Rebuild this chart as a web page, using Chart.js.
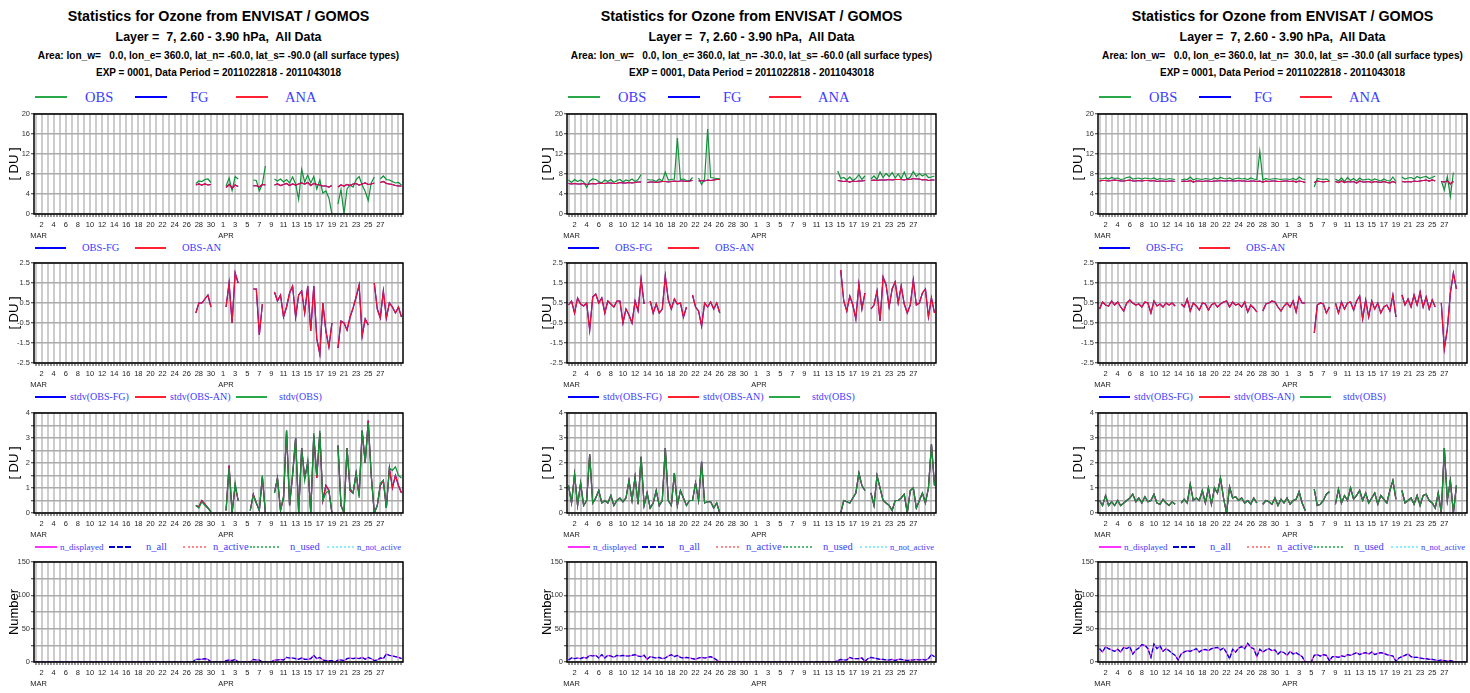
<!DOCTYPE html>
<html>
<head>
<meta charset="utf-8">
<script src="https://cdn.jsdelivr.net/npm/chart.js@4"></script>
<style>
  body { margin: 0; background: #fff; width: 1470px; height: 693px; position: relative; overflow: hidden; }
  canvas { position: absolute; }
  .ttl { position: absolute; white-space: pre; line-height: 1; font-family: "Liberation Sans", Arial, sans-serif; font-weight: bold; color: #000; transform: translate(-50%, -50%); }
  .lgt { position: absolute; white-space: pre; line-height: 1; font-family: "Liberation Serif", "Times New Roman", serif; color: #3c3cff; transform: translateY(-50%); }
  .lgl { position: absolute; height: 0; }
</style>
</head>
<body>
<script>
const _ = null;

// x axis: days since 1 Mar 2011 00Z, one value every 12 h (122 per series)
const marDays = [2, 4, 6, 8, 10, 12, 14, 16, 18, 20, 22, 24, 26, 28, 30];
const aprDays = [1, 3, 5, 7, 9, 11, 13, 15, 17, 19, 21, 23, 25, 27];
const monthNames = ['MAR', 'APR'];

const titleMain = 'Statistics for Ozone from ENVISAT / GOMOS';
const titleLayer = 'Layer =  7, 2.60 - 3.90 hPa,  All Data';
const titleExp = 'EXP = 0001, Data Period = 2011022818 - 2011043018';
const areaText = [
  'Area: lon_w=   0.0, lon_e= 360.0, lat_n= -60.0, lat_s= -90.0 (all surface types)',
  'Area: lon_w=   0.0, lon_e= 360.0, lat_n= -30.0, lat_s= -60.0 (all surface types)',
  'Area: lon_w=   0.0, lon_e= 360.0, lat_n=  30.0, lat_s= -30.0 (all surface types)'
];

// ---------- column 1 : 60S - 90S ----------
const c1Obs = [
  _,_, _,_, _,_, _,_, _,_, _,_, _,_, _,_, _,_, _,_,
  _,_, _,_, _,_, _,_, _,_, _,_, _,_, _,_, _,_, _,_,
  _,_, _,_, _,_, _,_, _,_, _,_, _,6.1, 6.6,6.5, 6.9,7.0, 6.3,_,
  _,_, _,5.6, 7.2,4.7, 7.5,7.0, _,_, _,_, 6.8,6.7, 4.6,6.0, 9.6,_, _,7.0,
  6.6,7.0, 6.4,6.9, 6.2,7.4, 6.0,2.9, 8.9,6.4, 7.8,6.2, 7.5,5.0, 6.8,4.2, 4.6,3.2, 0.0,_,
  2.0,4.9, 0.0,5.0, 5.8,5.4, 6.9,7.5, 5.8,4.5, 2.7,6.2, 7.4,_, 7.0,7.6, 6.9,6.8, 6.5,6.2,
  6.3,5.8
];
const c1Ana = [
  _,_, _,_, _,_, _,_, _,_, _,_, _,_, _,_, _,_, _,_,
  _,_, _,_, _,_, _,_, _,_, _,_, _,_, _,_, _,_, _,_,
  _,_, _,_, _,_, _,_, _,_, _,_, _,5.8, 6.0,5.8, 6.0,5.8, 5.9,_,
  _,_, _,5.3, 5.9,5.2, 5.8,5.5, _,_, _,_, 5.6,5.7, 5.4,5.9, 5.8,_, _,5.8,
  6.0,5.7, 5.9,6.1, 5.7,6.0, 5.8,6.0, 6.2,6.0, 6.3,5.7, 6.1,5.9, 5.8,5.6, 5.6,5.4, 5.7,_,
  5.4,5.8, 5.6,5.9, 5.7,6.0, 6.1,5.8, 6.0,6.2, 5.9,6.0, 6.2,_, 6.3,6.5, 6.1,6.0, 5.9,5.7,
  5.6,5.6
];
const c1Fg = c1Ana;   // FG curve lies under ANA
const c1ObsFg = [
  _,_, _,_, _,_, _,_, _,_, _,_, _,_, _,_, _,_, _,_,
  _,_, _,_, _,_, _,_, _,_, _,_, _,_, _,_, _,_, _,_,
  _,_, _,_, _,_, _,_, _,_, _,_, _,0.0, 0.5,0.5, 0.7,0.9, 0.3,_,
  _,_, _,0.3, 1.5,-0.5, 2.0,1.5, _,_, _,_, 1.2,1.2, -1.1,0.45, _,_, _,1.05,
  0.6,0.9, -0.2,0.3, 1.0,1.35, -0.2,0.9, 1.1,0.0, 1.35,-0.9, 1.35,-1.3, -2.05,0.5, -0.9,-1.7, -0.5,_,
  -1.75,-0.4, -0.5,-0.85, -0.2,0.25, 0.8,1.4, -1.15,-0.3, -0.6,_, 1.5,0.2, -0.25,1.1, -0.25,0.5, 0.3,0.0,
  0.3,-0.2
];
const c1ObsAn = c1ObsFg;
const c1SdObs = [
  _,_, _,_, _,_, _,_, _,_, _,_, _,_, _,_, _,_, _,_,
  _,_, _,_, _,_, _,_, _,_, _,_, _,_, _,_, _,_, _,_,
  _,_, _,_, _,_, _,_, _,_, _,_, _,0.3, 0.2,0.45, 0.3,0.2, 0.05,_,
  _,_, _,0.1, 1.8,0.0, 1.2,0.5, _,_, _,0.1, 0.7,0.4, 0.1,1.5, 0.0,_, _,0.8,
  1.4,0.1, 0.7,3.3, 0.3,1.6, 3.0,0.0, 2.6,1.3, 2.1,0.0, 3.2,1.5, 3.3,0.5, 0.8,0.9, 0.0,_,
  2.7,0.3, 0.0,2.6, 1.0,0.8, 1.6,0.6, 3.3,2.0, 3.6,1.5, 0.0,0.3, 1.2,1.3, 0.2,1.8, 1.7,1.85,
  1.5,1.4
];
const c1SdAn = [
  _,_, _,_, _,_, _,_, _,_, _,_, _,_, _,_, _,_, _,_,
  _,_, _,_, _,_, _,_, _,_, _,_, _,_, _,_, _,_, _,_,
  _,_, _,_, _,_, _,_, _,_, _,_, _,0.3, 0.25,0.5, 0.35,0.2, 0.05,_,
  _,_, _,0.1, 1.9,0.0, 1.1,0.5, _,_, _,0.1, 0.75,0.4, 0.1,1.45, 0.0,_, _,0.8,
  1.4,0.1, 0.6,3.3, 0.3,1.5, 3.0,0.0, 2.6,1.4, 2.0,0.0, 3.1,1.4, 3.2,0.5, 1.1,0.9, 0.0,_,
  2.7,0.3, 0.0,2.6, 0.9,0.8, 1.6,0.7, 3.3,2.0, 3.7,1.5, 0.0,0.3, 1.1,1.3, 0.2,1.8, 1.0,1.5,
  1.1,0.8
];
const c1SdFg = c1SdAn;
const c1Count = [
  0,0, 0,0, 0,0, 0,0, 0,0, 0,0, 0,0, 0,0, 0,0, 0,0,
  0,0, 0,0, 0,0, 0,0, 0,0, 0,0, 0,0, 0,0, 0,0, 0,0,
  0,0, 0,0, 0,0, 0,0, 0,0, 0,0, 0,4, 4,4, 5,4, 0,0,
  0,0, 0,2, 3,2, 4,0, 0,0, 0,0, 4,3, 3,0, 0,0, 0,3,
  3,4, 3,7, 6,6, 5,4, 6,4, 4,5, 10,5, 7,3, 2,2, 2,0,
  3,3, 2,5, 6,5, 6,5, 7,4, 7,5, 2,3, 6,5, 12,10, 9,8,
  7,5
];

// ---------- column 2 : 30S - 60S ----------
const c2Obs = [
  6.8,6.3, 6.9,6.5, 6.8,6.4, 5.3,6.6, 7.0,6.9, 6.5,6.2, 6.8,6.5, 6.9,6.3, 6.7,6.9, 6.4,6.8,
  6.6,7.0, 6.5,6.9, 7.9,_, 6.9,6.8, 6.8,6.5, 7.0,6.6, 8.4,6.8, 6.9,7.0, 15.2,6.9, 7.0,6.7,
  6.6,7.3, _,7.2, 5.9,7.0, 17.0,7.3, 7.2,7.1, 7.1,_, _,_, _,_, _,_, _,_,
  _,_, _,_, _,_, _,_, _,_, _,_, _,_, _,_, _,_, _,_,
  _,_, _,_, _,_, _,_, _,8.6, 7.1,7.3, 6.8,7.4, 6.7,7.1, 7.9,6.9, 7.6,_,
  7.0,7.6, 6.9,8.4, 7.3,8.1, 7.5,8.3, 7.2,8.0, 7.0,8.4, 6.9,7.4, 8.5,7.5, 8.1,7.6, 8.0,7.3,
  7.4,7.6
];
const c2Ana = [
  6.1,6.0, 6.1,6.0, 6.0,6.1, 5.9,6.0, 6.1,6.0, 6.2,6.1, 6.1,6.2, 6.2,6.1, 6.1,6.3, 6.2,6.2,
  6.3,6.2, 6.3,6.4, 6.4,_, 6.3,6.4, 6.4,6.3, 6.4,6.5, 6.5,6.4, 6.5,6.6, 6.5,6.6, 6.6,6.5,
  6.6,6.7, _,6.6, 6.7,6.6, 6.8,6.7, 6.8,6.9, 6.9,_, _,_, _,_, _,_, _,_,
  _,_, _,_, _,_, _,_, _,_, _,_, _,_, _,_, _,_, _,_,
  _,_, _,_, _,_, _,_, _,6.7, 6.6,6.5, 6.6,6.4, 6.6,6.5, 6.6,6.6, 6.7,_,
  6.7,6.8, 6.7,6.8, 6.8,6.8, 6.9,6.8, 6.9,6.9, 6.9,6.8, 7.0,6.9, 7.1,7.0, 7.0,6.8, 6.9,6.7,
  6.8,6.8
];
const c2Fg = c2Ana;
const c2ObsFg = [
  0.4,0.6, 0.0,0.75, 0.45,0.35, 0.5,-0.85, 0.8,0.95, 0.5,0.75, 0.0,0.6, 0.45,0.3, 0.6,0.6, -0.5,0.2,
  -0.1,-0.5, 0.6,0.1, 1.7,0.45, _,0.6, 0.0,0.45, 0.0,0.2, 1.85,0.65, 0.2,0.7, 0.45,0.5, -0.2,0.3,
  _,0.9, 0.3,0.1, -0.65,0.5, 0.3,0.55, 0.2,0.5, 0.0,_, _,_, _,_, _,_, _,_,
  _,_, _,_, _,_, _,_, _,_, _,_, _,_, _,_, _,_, _,_,
  _,_, _,_, _,_, _,_, _,_, 2.15,0.6, 0.1,0.85, 0.4,-0.3, 1.45,0.2, 1.0,_,
  0.2,0.4, 1.1,-0.4, 1.8,1.4, 0.3,1.2, 1.55,0.5, 1.35,0.45, 0.0,0.4, 1.65,0.4, 0.5,1.0, 1.2,-0.2,
  0.75,0.0
];
const c2ObsAn = c2ObsFg;
const c2SdObs = [
  1.1,0.4, 1.55,0.3, 1.2,0.3, 0.5,2.35, 0.4,0.6, 0.9,0.4, 0.5,0.4, 0.7,0.3, 0.5,0.6, 0.45,0.6,
  1.3,0.5, 1.45,0.35, 2.25,0.3, 0.8,0.2, 0.4,0.9, 0.3,0.5, 2.6,0.5, 0.3,1.6, 0.3,0.9, 0.6,0.3,
  0.5,0.5, 1.2,0.5, 2.05,0.4, 0.45,0.45, 0.2,0.4, 0.0,_, _,_, _,_, _,_, _,_,
  _,_, _,_, _,_, _,_, _,_, _,_, _,_, _,_, _,_, _,_,
  _,_, _,_, _,_, _,_, _,_, 0.0,0.5, 0.45,0.4, 0.6,0.8, 1.6,1.1, 0.9,_,
  0.8,0.3, 1.5,1.0, 0.5,0.4, 0.3,0.1, 0.5,0.5, 0.6,0.75, 0.0,0.9, 1.0,0.2, 0.5,0.8, 0.4,1.0,
  2.75,1.1
];
const c2SdAn = c2SdObs;
const c2SdFg = c2SdObs;
const c2Count = [
  3,6, 5,6, 5,7, 6,10, 9,10, 6,11, 6,10, 9,7, 10,9, 10,9,
  9,10, 11,9, 8,10, 4,8, 7,6, 7,5, 6,9, 11,8, 10,7, 6,7,
  6,5, 4,6, 7,6, 7,8, 6,3, 0,0, 0,0, 0,0, 0,0, 0,0,
  0,0, 0,0, 0,0, 0,0, 0,0, 0,0, 0,0, 0,0, 0,0, 0,0,
  0,0, 0,0, 0,0, 0,0, 0,2, 4,3, 3,7, 5,5, 5,6, 1,5,
  7,6, 5,4, 4,3, 3,4, 2,4, 4,3, 2,3, 3,4, 3,4, 3,5,
  11,8
];

// ---------- column 3 : 30N - 30S ----------
const c3Obs = [
  7.1,7.0, 7.2,7.0, 7.3,7.1, 7.2,6.9, 7.0,7.3, 7.4,7.0, 7.1,7.2, 7.0,7.2, 7.1,7.0, 7.2,6.9,
  7.1,7.0, 6.9,7.1, 7.0,6.9, _,6.8, 7.0,6.9, 7.4,6.8, 7.1,7.0, 6.9,7.1, 7.0,6.9, 7.2,7.0,
  7.3,7.1, 7.0,7.2, 6.9,7.1, 7.2,7.0, 7.1,6.9, 7.2,7.0, 6.9,12.5, 6.8,7.1, 6.9,7.0, 7.1,7.0,
  6.9,7.0, 7.0,6.9, 7.1,6.8, 7.4,7.0, 6.9,_, _,5.4, 7.1,7.0, 6.9,7.0, 6.6,_, 7.0,6.6,
  7.2,6.5, 7.3,6.7, 7.1,6.6, 7.2,6.8, 6.9,7.0, 6.7,7.0, 6.8,6.6, 7.0,6.7, 6.6,7.4, 6.5,_,
  7.4,7.0, 7.2,7.3, 7.0,7.5, 7.2,7.4, 7.5,7.1, 7.3,7.6, _,6.6, 4.8,7.5, 3.5,8.3, _,_,
  _,_
];
const c3Ana = [
  6.6,6.7, 6.7,6.6, 6.7,6.8, 6.7,6.6, 6.6,6.7, 6.8,6.6, 6.6,6.7, 6.6,6.7, 6.7,6.6, 6.7,6.5,
  6.6,6.6, 6.5,6.6, 6.6,6.5, _,6.5, 6.6,6.5, 6.7,6.4, 6.6,6.6, 6.5,6.6, 6.6,6.5, 6.6,6.6,
  6.7,6.6, 6.6,6.7, 6.6,6.6, 6.7,6.6, 6.6,6.5, 6.6,6.6, 6.5,6.6, 6.4,6.6, 6.5,6.6, 6.6,6.5,
  6.5,6.6, 6.6,6.5, 6.6,6.4, 6.6,6.5, 6.3,_, _,6.3, 6.6,6.5, 6.4,6.5, 6.5,_, 6.5,6.3,
  6.6,6.3, 6.5,6.4, 6.5,6.2, 6.6,6.4, 6.4,6.5, 6.3,6.5, 6.4,6.3, 6.5,6.3, 6.2,6.5, 6.2,_,
  6.5,6.4, 6.5,6.4, 6.6,6.5, 6.6,6.7, 6.8,6.6, 6.8,6.6, _,6.5, 6.4,6.6, 6.0,6.5, _,_,
  _,_
];
const c3Fg = c3Ana;
const c3ObsFg = [
  0.2,0.55, 0.4,0.35, 0.6,0.4, 0.55,0.3, 0.1,0.5, 0.65,0.5, 0.4,0.45, 0.3,0.55, 0.5,0.0, 0.6,0.35,
  0.45,0.3, 0.5,0.4, 0.5,0.35, _,0.45, 0.3,0.7, 0.1,0.5, 0.35,0.15, 0.5,0.45, 0.15,0.4, 0.5,0.3,
  0.45,0.55, 0.6,0.3, 0.55,0.4, 0.45,0.3, 0.55,0.05, 0.4,0.25, 0.05,_, 0.1,0.45, 0.5,0.6, 0.55,0.3,
  0.1,0.35, 0.5,0.3, 0.6,0.05, 0.8,0.5, 0.5,_, _,-1.0, 0.4,0.5, 0.45,0.0, 0.3,_, 0.5,0.0,
  0.55,0.2, 0.5,0.55, 0.15,0.6, 0.85,-0.3, 0.65,-0.2, 0.6,0.2, 0.5,0.0, 0.3,0.4, 0.1,0.9, -0.2,_,
  0.9,0.4, 0.7,0.3, 0.9,0.4, 1.05,0.3, 0.8,0.2, 0.65,0.3, _,0.5, -1.8,-0.8, 1.0,2.0, 1.2,_,
  _,_
];
const c3ObsAn = c3ObsFg;
const c3SdObs = [
  0.5,0.3, 0.7,0.3, 0.45,0.3, 0.5,0.3, 0.4,0.5, 0.6,0.75, 0.45,0.6, 0.4,0.65, 0.45,0.5, 0.75,0.4,
  0.35,0.55, 0.4,0.3, 0.45,0.35, _,0.4, 0.55,0.4, 1.15,0.5, 0.6,0.5, 0.9,0.4, 1.0,0.35, 1.0,0.8,
  1.4,0.6, 0.0,1.05, 0.6,0.65, 0.5,0.6, 0.4,0.5, 0.35,0.6, 0.4,_, 0.35,0.5, 0.45,0.35, 0.6,0.3,
  0.55,0.4, 0.6,0.35, 0.5,0.55, 0.85,0.4, 0.1,_, _,0.95, 0.3,0.35, 0.5,0.75, 0.85,_, 0.35,0.95,
  0.4,0.7, 0.5,1.0, 0.55,0.7, 0.9,0.5, 0.8,0.4, 0.6,0.8, 0.35,0.7, 0.55,0.4, 0.9,1.3, 0.55,_,
  0.9,0.4, 0.5,0.6, 0.35,0.7, 0.3,0.7, 0.75,0.5, 0.4,0.2, 0.8,0.0, 2.6,0.5, 1.3,0.0, 1.1,_,
  _,_
];
const c3SdAn = c3SdObs;
const c3SdFg = c3SdObs;
const c3Count = [
  20,15, 23,20, 18,16, 19,15, 22,20, 23,12, 18,21, 26,25, 20,7, 27,20,
  24,16, 20,17, 13,10, 3,12, 15,17, 16,18, 20,15, 18,19, 17,20, 21,22,
  18,21, 14,5, 19,15, 21,23, 20,28, 22,20, 8,19, 15,18, 20,17, 18,12,
  16,14, 10,16, 12,14, 11,8, 0,0, 0,10, 11,9, 11,10, 2,8, 8,7,
  9,8, 11,10, 12,14, 11,13, 14,12, 15,11, 13,14, 13,11, 10,9, 1,6,
  8,10, 12,8, 7,7, 6,5, 5,4, 4,3, 2,3, 2,1, 2,1, 0,0,
  0,0
];

const columns = [
  { obs: c1Obs, fg: c1Fg, ana: c1Ana, dfg: c1ObsFg, dan: c1ObsAn, sfg: c1SdFg, san: c1SdAn, sobs: c1SdObs, n: c1Count },
  { obs: c2Obs, fg: c2Fg, ana: c2Ana, dfg: c2ObsFg, dan: c2ObsAn, sfg: c2SdFg, san: c2SdAn, sobs: c2SdObs, n: c2Count },
  { obs: c3Obs, fg: c3Fg, ana: c3Ana, dfg: c3ObsFg, dan: c3ObsAn, sfg: c3SdFg, san: c3SdAn, sobs: c3SdObs, n: c3Count }
];

// layout
const colX = [0, 533, 1064];
const panelTop = [114, 263, 413, 562];
const plotW = 369, plotH = 100;
const SANS = '"Liberation Sans", Arial, sans-serif';

const GREEN = '#12913a', BLUE = '#0000ff', RED = '#ee1133', MAGENTA = '#ff33ff', CYAN = '#33e8ff';

const panels = [
  { min: 0, max: 20, step: 2, labels: [0, 4, 8, 12, 16, 20], title: '[ DU ]' },
  { min: -2.5, max: 2.5, step: 0.5, labels: [-2.5, -1.5, -0.5, 0.5, 1.5, 2.5], title: '[ DU ]', zero: true },
  { min: 0, max: 4, step: 0.5, labels: [0, 1, 2, 3, 4], title: '[ DU ]' },
  { min: 0, max: 150, step: 25, labels: [0, 50, 100, 150], title: 'Number' }
];

// tick every half day, grid line every day
const xTicks = [];
for (let v = 0; v <= 60.5; v += 0.5) xTicks.push(v);

function xLabel(v) {
  if (v === 0.5) return ['', monthNames[0]];
  if (v === 31.5) return ['', monthNames[1]];
  if (!Number.isInteger(v)) return '';
  if (v < 31 && marDays.includes(v + 1)) return String(v + 1);
  if (v >= 31 && aprDays.includes(v - 30)) return String(v - 30);
  return '';
}

const framePlugin = {
  id: 'frame',
  afterDatasetsDraw(chart) {
    const { ctx, chartArea: a } = chart;
    ctx.save();
    ctx.strokeStyle = '#000';
    ctx.lineWidth = 1.5;
    ctx.strokeRect(a.left, a.top, a.right - a.left, a.bottom - a.top);
    ctx.restore();
  }
};

function line(arr, color, dash) {
  return {
    data: arr.map((y, i) => ({ x: i / 2, y: y })),
    borderColor: color,
    borderWidth: 1.2,
    borderDash: dash || [],
    pointRadius: 0,
    tension: 0,
    spanGaps: false
  };
}

function makePanel(c, p, datasets) {
  const cv = document.createElement('canvas');
  cv.width = 440;
  cv.height = 8 + plotH + 30;
  cv.style.left = colX[c] + 'px';
  cv.style.top = (panelTop[p] - 8) + 'px';
  document.body.appendChild(cv);
  const P = panels[p];
  new Chart(cv, {
    type: 'line',
    data: { datasets: datasets },
    options: {
      responsive: false,
      animation: false,
      devicePixelRatio: 1,
      layout: { padding: { top: 8, right: 440 - 34 - plotW, left: 0, bottom: 0 } },
      plugins: { legend: { display: false }, tooltip: { enabled: false } },
      scales: {
        x: {
          type: 'linear',
          min: -0.25,
          max: 60.75,
          afterBuildTicks: s => { s.ticks = xTicks.map(v => ({ value: v })); },
          afterFit: s => { s.height = 30; },
          border: { display: false },
          grid: {
            color: ctx => (ctx.tick && Number.isInteger(ctx.tick.value)) ? '#cdcdcd' : 'rgba(0,0,0,0)',
            lineWidth: 2,
            tickLength: 3,
            tickColor: '#333',
            tickWidth: 1
          },
          ticks: {
            autoSkip: false,
            maxRotation: 0,
            minRotation: 0,
            padding: 2.5,
            color: '#222',
            font: { family: SANS, size: 7.5, lineHeight: '11px' },
            callback: v => xLabel(v)
          }
        },
        y: {
          min: P.min,
          max: P.max,
          afterFit: s => { s.width = 34; },
          border: { display: false },
          grid: {
            color: ctx => (P.zero && ctx.tick && ctx.tick.value === 0) ? '#000' : '#ababab',
            lineWidth: 1.5,
            tickLength: 3,
            tickColor: '#333',
            tickWidth: 1
          },
          ticks: {
            stepSize: P.step,
            padding: 1,
            color: '#333',
            font: { family: SANS, size: 7.5 },
            callback: v => P.labels.some(l => Math.abs(l - v) < 1e-9) ? String(v) : ''
          },
          title: {
            display: true,
            text: P.title,
            color: '#000',
            font: { family: SANS, size: 13 },
            padding: { top: 7, bottom: 0 }
          }
        }
      }
    },
    plugins: [framePlugin]
  });
}

function text(cls, str, x, y, css) {
  const d = document.createElement('div');
  d.className = cls;
  d.textContent = str;
  d.style.left = x + 'px';
  d.style.top = y + 'px';
  d.style.cssText += css || '';
  document.body.appendChild(d);
}

function legLine(x1, x2, y, color, style) {
  const d = document.createElement('div');
  d.className = 'lgl';
  d.style.left = x1 + 'px';
  d.style.top = (Math.round(y) - 1) + 'px';
  d.style.width = (x2 - x1) + 'px';
  d.style.borderTop = '2px ' + (style || 'solid') + ' ' + color;
  document.body.appendChild(d);
}

// legend rows (x relative to column)
const legendRows = [
  { y: 96.7, lines: [[35, 67, '#2aa84a'], [135, 167, BLUE], [236, 268, '#ff2233']],
    texts: [['OBS', 85, 14.5], ['FG', 190, 14.5], ['ANA', 285, 14.5]] },
  { y: 247.7, lines: [[35, 66, BLUE], [135, 166, '#ff2233']],
    texts: [['OBS-FG', 82, 10.5], ['OBS-AN', 182, 10.5]] },
  { y: 396.7, lines: [[35, 66, BLUE], [135, 166, '#ff2233'], [236, 267, '#2aa84a']],
    texts: [['stdv(OBS-FG)', 70, 10], ['stdv(OBS-AN)', 170, 10], ['stdv(OBS)', 279, 10]] },
  { y: 546.7, lines: [[35, 57, MAGENTA, 'solid'], [109, 131, '#0000cc', 'dashed'], [183, 206, '#ff8888', 'dotted'], [250, 279, '#55bb77', 'dotted'], [327, 354, '#88f0ff', 'dotted']],
    texts: [['n_displayed', 60, 9], ['n_all', 146, 10.5], ['n_active', 213, 10.5], ['n_used', 290, 10.5], ['n_not_active', 357, 8.5]] }
];

columns.forEach((col, c) => {
  const ox = colX[c];
  const cx = ox + 34 + plotW / 2;
  text('ttl', titleMain, cx, 15.7, 'font-size:14.3px;');
  text('ttl', titleLayer, cx, 36.7, 'font-size:12.4px;');
  text('ttl', areaText[c], cx, 56, 'font-size:10.1px;');
  text('ttl', titleExp, cx, 72.7, 'font-size:10px;');

  legendRows.forEach(r => {
    r.lines.forEach(l => legLine(ox + l[0], ox + l[1], r.y, l[2], l[3]));
    r.texts.forEach(t => text('lgt', t[0], ox + t[1], r.y, 'font-size:' + t[2] + 'px;'));
  });

  makePanel(c, 0, [line(col.ana, RED), line(col.fg, BLUE), line(col.obs, GREEN)]);
  makePanel(c, 1, [line(col.dan, RED), line(col.dfg, BLUE)]);
  makePanel(c, 2, [line(col.sobs, GREEN), line(col.san, RED), line(col.sfg, BLUE)]);
  makePanel(c, 3, [line(col.n, '#0000cc', [4, 2]), line(col.n, MAGENTA), line(col.n, CYAN, [1, 1])]);
});
</script>
</body>
</html>
